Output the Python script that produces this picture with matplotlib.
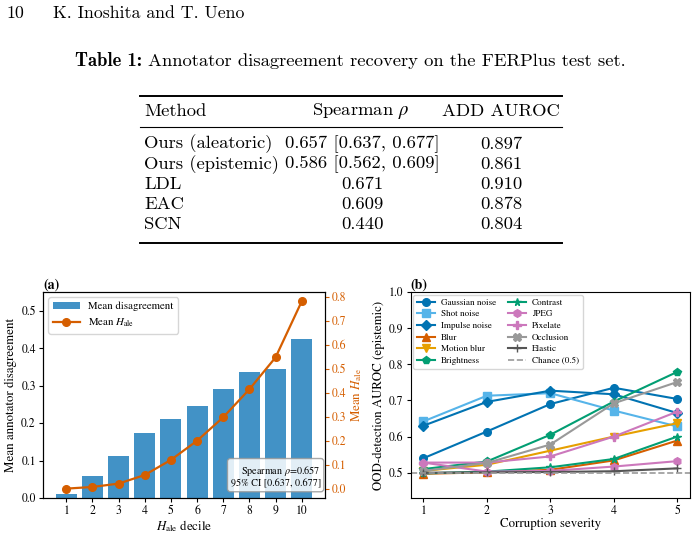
"""
Page 10 snippet: Table 1 and the two uncertainty figures.
"""

import matplotlib
import matplotlib.pyplot as plt
import numpy as np
from matplotlib.ticker import MultipleLocator

matplotlib.use("Agg")

# table data
table_methods = ["Ours (aleatoric)", "Ours (epistemic)", "LDL", "EAC", "SCN"]
table_spearman = ["0.657 [0.637, 0.677]", "0.586 [0.562, 0.609]", "0.671", "0.609", "0.440"]
table_auroc = ["0.897", "0.861", "0.910", "0.878", "0.804"]

# (a) deciles
deciles = np.arange(1, 11)
mean_disagreement = [0.012, 0.060, 0.112, 0.173, 0.210, 0.246, 0.291, 0.336, 0.345, 0.424]
mean_h_ale = [0.000, 0.007, 0.021, 0.057, 0.120, 0.200, 0.298, 0.415, 0.548, 0.782]

# (b) corruption severity
severity = [1, 2, 3, 4, 5]
corruptions = [
    "Gaussian noise", "Shot noise", "Impulse noise", "Blur", "Motion blur",
    "Brightness", "Contrast", "JPEG", "Pixelate", "Occlusion", "Elastic",
]
auroc = {
    "Gaussian noise": [0.540, 0.614, 0.690, 0.735, 0.704],
    "Shot noise": [0.642, 0.713, 0.720, 0.672, 0.628],
    "Impulse noise": [0.630, 0.696, 0.727, 0.717, 0.665],
    "Blur": [0.497, 0.501, 0.508, 0.534, 0.589],
    "Motion blur": [0.505, 0.522, 0.561, 0.600, 0.637],
    "Brightness": [0.510, 0.531, 0.605, 0.697, 0.779],
    "Contrast": [0.498, 0.503, 0.515, 0.538, 0.600],
    "JPEG": [0.528, 0.503, 0.505, 0.517, 0.532],
    "Pixelate": [0.528, 0.528, 0.545, 0.600, 0.669],
    "Occlusion": [0.505, 0.527, 0.578, 0.692, 0.751],
    "Elastic": [0.500, 0.501, 0.502, 0.504, 0.512],
}
styles = {
    "Gaussian noise": ("#0173b2", "o"),
    "Shot noise": ("#56b4e9", "s"),
    "Impulse noise": ("#0173b2", "D"),
    "Blur": ("#d55e00", "^"),
    "Motion blur": ("#e69f00", "v"),
    "Brightness": ("#029e73", "p"),
    "Contrast": ("#029e73", "*"),
    "JPEG": ("#cc78bc", "h"),
    "Pixelate": ("#cc78bc", "P"),
    "Occlusion": ("#999999", "X"),
    "Elastic": ("#555555", "+"),
}

plt.rcParams["mathtext.fontset"] = "stix"
plt.rcParams["font.family"] = ["STIXGeneral", "DejaVu Serif"]
# compact ticks like the source figure
for k in ("xtick", "ytick"):
    plt.rcParams[f"{k}.major.size"] = 3
    plt.rcParams[f"{k}.major.pad"] = 2.2

W, H = 697, 557
fig = plt.figure(figsize=(W / 100, H / 100), dpi=100)
renderer = fig.canvas.get_renderer()


def put(x, y, s, **kw):
    """Text at a pixel position (top-left origin)."""
    return fig.text(x / W, 1 - y / H, s, **kw)


# page header
put(6, 13, "10", family="cmr10", fontsize=12.8, va="center")
put(53, 13, "K. Inoshita and T. Ueno", family="cmr10", fontsize=12.8, va="center")

# caption: bold label followed by the plain text
lab = put(75, 61, "Table 1:", family="cmb10", fontsize=13.4, va="center")
x_end = lab.get_window_extent(renderer).x1
put(x_end + 6, 61, "Annotator disagreement recovery on the FERPlus test set.",
    family="cmr10", fontsize=13.4, va="center")

# table
tl, tr = 140, 562
for yy, lw in [(96, 1.4), (127, 0.8), (243, 1.4)]:
    fig.add_artist(plt.Line2D([tl / W, tr / W], [1 - yy / H] * 2, color="black", lw=lw))
tfont = dict(family="cmr10", fontsize=13.4, va="center")
put(144, 111, "Method", ha="left", **tfont)
put(361, 111, r"Spearman $\rho$", ha="center", **tfont)
put(501, 111, "ADD AUROC", ha="center", **tfont)
for i, (m, s, a) in enumerate(zip(table_methods, table_spearman, table_auroc)):
    yy = 144 + i * 20.2
    put(144, yy, m, ha="left", **tfont)
    put(362, yy, s, ha="center", **tfont)
    put(501, yy, a, ha="center", **tfont)

lab_size = 9.3

# (a)
ax = fig.add_axes([43 / W, 1 - 498 / H, (325 - 43) / W, (498 - 292) / H])
ax.bar(deciles, mean_disagreement, width=0.8, color="#4292c6", label="Mean disagreement")
ax.set_ylim(0, 0.55)
ax.set_xticks(deciles)
ax.set_xlabel(r"$H_{\rm ale}$ decile", fontsize=lab_size, labelpad=1)
ax.set_ylabel("Mean annotator disagreement", fontsize=lab_size, labelpad=3)
ax.tick_params(labelsize=8.5)
ax.set_title("(a)", loc="left", fontweight="bold", fontsize=10, pad=1)
ax2 = ax.twinx()
orange = "#d55e00"
ax2.plot(deciles, mean_h_ale, color=orange, marker="o", lw=1.6, ms=5.5, label=r"Mean $H_{\rm ale}$")
ax2.yaxis.set_major_locator(MultipleLocator(0.1))
ax2.set_ylabel(r"Mean $H_{\rm ale}$", color=orange, fontsize=lab_size, labelpad=2)
ax2.tick_params(axis="y", colors=orange, labelsize=8.5)
ax2.spines["right"].set_color("black")
h1, l1 = ax.get_legend_handles_labels()
h2, l2 = ax2.get_legend_handles_labels()
ax.legend(h1 + h2, l1 + l2, loc="upper left", fontsize=7.8, handlelength=2.5)
ax.text(0.985, 0.045, "Spearman $\\rho$=0.657\n95% CI [0.637, 0.677]", transform=ax.transAxes,
        ha="right", va="bottom", fontsize=7.3, zorder=10,
        bbox=dict(boxstyle="round,pad=0.3", facecolor="white", edgecolor="#999999", alpha=0.85))

# (b)
bx = fig.add_axes([410.7 / W, 1 - 498 / H, (690 - 410.7) / W, (498 - 292) / H])
for name in corruptions:
    c, m = styles[name]
    bx.plot(severity, auroc[name], color=c, marker=m, lw=1.5, ms=5.5, label=name)
bx.axhline(0.5, color="#999999", ls="--", lw=1.2, label="Chance (0.5)")
bx.set_ylim(0.43, 1.0)
bx.set_xlim(0.8, 5.2)
bx.set_xticks(severity)
bx.set_yticks([0.5, 0.6, 0.7, 0.8, 0.9, 1.0])
bx.set_xlabel("Corruption severity", fontsize=lab_size, labelpad=1)
bx.set_ylabel("OOD-detection AUROC (epistemic)", fontsize=lab_size, labelpad=3)
bx.tick_params(labelsize=8.5)
bx.set_title("(b)", loc="left", fontweight="bold", fontsize=10, pad=1)
bx.legend(loc="upper left", ncol=2, fontsize=6.6, handlelength=2.0, columnspacing=1.3,
          handletextpad=0.6, labelspacing=0.35, borderaxespad=0.3)

fig.savefig("out.png", dpi=100, facecolor="white")
